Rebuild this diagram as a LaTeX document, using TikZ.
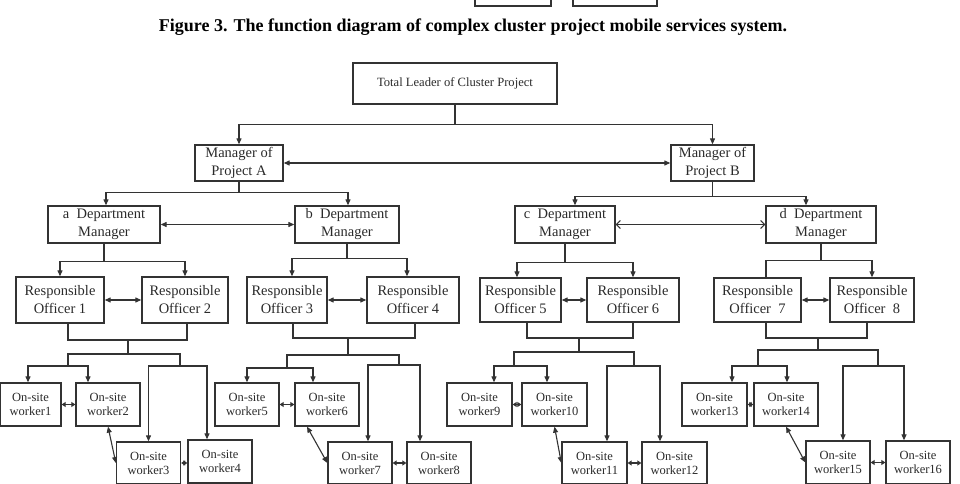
\documentclass[tikz,border=0pt]{standalone}
\usepackage{fontspec}
\setmainfont{Liberation Serif}
\usetikzlibrary{arrows.meta, positioning, calc}

\begin{document}
\begin{tikzpicture}[
    x=1pt, y=-1pt,
    >={Triangle[length=6pt, width=5pt]},
    box/.style={draw=linegray, line width=1.3pt, align=center, inner sep=0pt,
        text=textgray, font=\fontsize{14.5}{18}\selectfont},
    workerbox/.style={box, minimum width=64pt, minimum height=43pt,
        font=\fontsize{12.5}{14}\selectfont},
    link/.style={draw=linegray, line width=1.1pt},
    tinylink/.style={link, {Triangle[length=4pt, width=5pt]}-{Triangle[length=4pt, width=5pt]}}
]
    % canvas: 960 x 484, y grows downwards
    \clip (0,0) rectangle (960,484);

    % ==========================================
    % colours
    % ==========================================
    \definecolor{linegray}{HTML}{333333}
    \definecolor{textgray}{HTML}{2A2A2A}

    % ==========================================
    % caption and the bottom of the figure above
    % ==========================================
    \draw[linegray, line width=1.3pt] (475,-10) rectangle (551,6);
    \draw[linegray, line width=1.3pt] (573,-10) rectangle (657,6);
    \node[font=\fontsize{18}{20}\selectfont\bfseries] (caption) at (473,27)
        {Figure 3. The function diagram of complex cluster project mobile services system.};

    % ==========================================
    % leader and project managers
    % ==========================================
    \node[box, minimum width=204pt, minimum height=41pt, font=\fontsize{12.6}{14}\selectfont]
        (leader) at (455,83.5) {Total Leader of Cluster Project};
    \node[box, minimum width=88pt, minimum height=36pt] (mgrA) at (239,163) {Manager of\\Project A};
    \node[box, minimum width=83pt, minimum height=36pt] (mgrB) at (712.5,163) {Manager of\\Project B};

    % ==========================================
    % department managers
    % ==========================================
    \node[box, minimum width=112pt, minimum height=37pt] (deptA) at (104,224.5) {a\ \ Department\\Manager};
    \node[box, minimum width=104pt, minimum height=37pt] (deptB) at (347,224.5) {b\ \ Department\\Manager};
    \node[box, minimum width=100pt, minimum height=37pt] (deptC) at (565,224.5) {c\ \ Department\\Manager};
    \node[box, minimum width=110pt, minimum height=37pt] (deptD) at (821,224.5) {d\ \ Department\\Manager};

    % ==========================================
    % responsible officers
    % ==========================================
    \node[box, minimum width=88pt, minimum height=46pt] (ro1) at (60,300)    {Responsible\\Officer 1};
    \node[box, minimum width=86pt, minimum height=46pt] (ro2) at (185,300)   {Responsible\\Officer 2};
    \node[box, minimum width=80pt, minimum height=46pt] (ro3) at (287,300)   {Responsible\\Officer 3};
    \node[box, minimum width=92pt, minimum height=46pt] (ro4) at (413,300)   {Responsible\\Officer 4};
    \node[box, minimum width=81pt, minimum height=44pt] (ro5) at (520.5,300) {Responsible\\Officer 5};
    \node[box, minimum width=92pt, minimum height=44pt] (ro6) at (633,300)   {Responsible\\Officer 6};
    \node[box, minimum width=87pt, minimum height=44pt] (ro7) at (757.5,300) {Responsible\\Officer\ \ 7};
    \node[box, minimum width=84pt, minimum height=44pt] (ro8) at (872,300)   {Responsible\\Officer\ \ 8};

    % ==========================================
    % on-site workers
    % ==========================================
    \node[workerbox, minimum width=61pt] (w1) at (30.5,404.5) {On-site\\worker1};
    \node[workerbox] (w2)  at (108,404.5)   {On-site\\worker2};
    \node[workerbox, minimum height=42pt] (w3) at (148.5,463) {On-site\\worker3};
    \node[workerbox] (w4)  at (220,461.5)   {On-site\\worker4};
    \node[workerbox] (w5)  at (247,404.5)   {On-site\\worker5};
    \node[workerbox] (w6)  at (327,404.5)   {On-site\\worker6};
    \node[workerbox, minimum height=42pt] (w7) at (360,463) {On-site\\worker7};
    \node[workerbox, minimum height=42pt] (w8) at (439,463) {On-site\\worker8};
    \node[workerbox, minimum width=65pt] (w9)  at (479.5,404.5) {On-site\\worker9};
    \node[workerbox, minimum width=65pt] (w10) at (554.5,404.5) {On-site\\worker10};
    \node[workerbox, minimum width=65pt, minimum height=42pt] (w11) at (594.5,463) {On-site\\worker11};
    \node[workerbox, minimum width=65pt, minimum height=42pt] (w12) at (674.5,463) {On-site\\worker12};
    \node[workerbox, minimum width=65pt] (w13) at (714.5,404.5) {On-site\\worker13};
    \node[workerbox] (w14) at (786,404.5)   {On-site\\worker14};
    \node[workerbox] (w15) at (838,462.5)   {On-site\\worker15};
    \node[workerbox] (w16) at (918,462.5)   {On-site\\worker16};

    % ==========================================
    % upper levels
    % ==========================================
    \draw[link, ->] (leader.south) -- ++(0,20) -| (mgrA.north);
    \draw[link, ->] (leader.south) -- ++(0,20) -| (mgrB.north);
    \draw[link, <->] (mgrA.east) -- (mgrB.west);

    \draw[link, ->] (mgrA.south) -- ++(0,11) -| ([xshift=2pt]deptA.north);
    \draw[link, ->] (mgrA.south) -- ++(0,11) -| ([xshift=1pt]deptB.north);
    \draw[link, ->] (mgrB.south) -- ++(0,15) -| ([xshift=10pt]deptC.north);
    \draw[link, ->] (mgrB.south) -- ++(0,15) -| ([xshift=-15pt]deptD.north);
    \draw[link, <->] (deptA.east) -- (deptB.west);
    \draw[link, {Straight Barb[length=4pt, width=8pt]}-{Straight Barb[length=4pt, width=8pt]}]
        (deptC.east) -- (deptD.west);

    \draw[link, ->] (deptA.south) -- ++(0,18) -| (ro1.north);
    \draw[link, ->] (deptA.south) -- ++(0,18) -| (ro2.north);
    \draw[link, ->] (deptB.south) -- ++(0,15) -| ([xshift=5pt]ro3.north);
    \draw[link, ->] (deptB.south) -- ++(0,15) -| ([xshift=-6pt]ro4.north);
    \draw[link, ->] (deptC.south) -- ++(0,18.5) -| ([xshift=-3.5pt]ro5.north);
    \draw[link, ->] (deptC.south) -- ++(0,18.5) -| (ro6.north);
    \draw[link]     (deptD.south) -- ++(0,16.5) -| ([xshift=8.5pt]ro7.north);
    \draw[link, ->] (deptD.south) -- ++(0,16.5) -| (ro8.north);

    \foreach \l/\r in {ro1/ro2, ro3/ro4, ro5/ro6, ro7/ro8}
        \draw[link, <->] (\l.east) -- (\r.west);

    % ==========================================
    % officers to workers
    % ==========================================
    \coordinate (jA) at (128,340); \coordinate (hA) at (128,354);
    \coordinate (lA) at (68,366);  \coordinate (rA) at (180,366);
    \coordinate (jB) at (348,338); \coordinate (hB) at (348,355);
    \coordinate (lB) at (287,368); \coordinate (rB) at (399,365);
    \coordinate (jC) at (579,338); \coordinate (hC) at (579,352);
    \coordinate (lC) at (514,366); \coordinate (rC) at (634,366);
    \coordinate (jD) at (818,338); \coordinate (hD) at (818,350);
    \coordinate (lD) at (758,366); \coordinate (rD) at (878,366);

    % group a
    \draw[link] ([xshift=8pt]ro1.south) |- (jA) -| ([xshift=2pt]ro2.south);
    \draw[link] (jA) -- (hA);
    \draw[link, ->] (hA) -| (lA) -| ([xshift=-2.5pt]w1.north);
    \draw[link, ->] (hA) -| (lA) -| ([xshift=-20pt]w2.north);
    \draw[link, ->] (hA) -| (rA) -| (w3.north);
    \draw[link, ->] (hA) -| (rA) -| ([xshift=-13pt]w4.north);

    % group b
    \draw[link] ([xshift=6pt]ro3.south) |- (jB) -| ([xshift=2pt]ro4.south);
    \draw[link] (jB) -- (hB);
    \draw[link, ->] (hB) -| (lB) -| (w5.north);
    \draw[link, ->] (hB) -| (lB) -| ([xshift=-14pt]w6.north);
    \draw[link, ->] (hB) -| (rB) -| ([xshift=8pt]w7.north);
    \draw[link, ->] (hB) -| (rB) -| ([xshift=-19pt]w8.north);

    % group c
    \draw[link] ([xshift=6.5pt]ro5.south) |- (jC) -| (ro6.south);
    \draw[link] (jC) -- (hC);
    \draw[link, ->] (hC) -| (lC) -| ([xshift=14.5pt]w9.north);
    \draw[link, ->] (hC) -| (lC) -| ([xshift=-7.5pt]w10.north);
    \draw[link, ->] (hC) -| (rC) -| ([xshift=12.5pt]w11.north);
    \draw[link, ->] (hC) -| (rC) -| ([xshift=-14.5pt]w12.north);

    % group d
    \draw[link] ([xshift=8.5pt]ro7.south) |- (jD) -| ([xshift=-5pt]ro8.south);
    \draw[link] (jD) -- (hD);
    \draw[link, ->] (hD) -| (lD) -| ([xshift=17.5pt]w13.north);
    \draw[link, ->] (hD) -| (lD) -| ([xshift=1pt]w14.north);
    \draw[link, ->] (hD) -| (rD) -| ([xshift=5pt]w15.north);
    \draw[link, ->] (hD) -| (rD) -| ([xshift=-14pt]w16.north);

    % ==========================================
    % links between workers
    % ==========================================
    \foreach \l/\r in {w1/w2, w5/w6, w9/w10, w13/w14, w3/w4, w7/w8, w11/w12, w15/w16}
        \draw[tinylink] (\l.east) -- (\l.east -| \r.west);

    \draw[link, <->] (w2.south) -- (w3.west);
    \draw[link, <->] ([xshift=-20pt]w6.south) -- (w7.west);
    \draw[link, <->] (w10.south) -- (w11.west);
    \draw[link, <->] (w14.south) -- (w15.west);

\end{tikzpicture}
\end{document}
